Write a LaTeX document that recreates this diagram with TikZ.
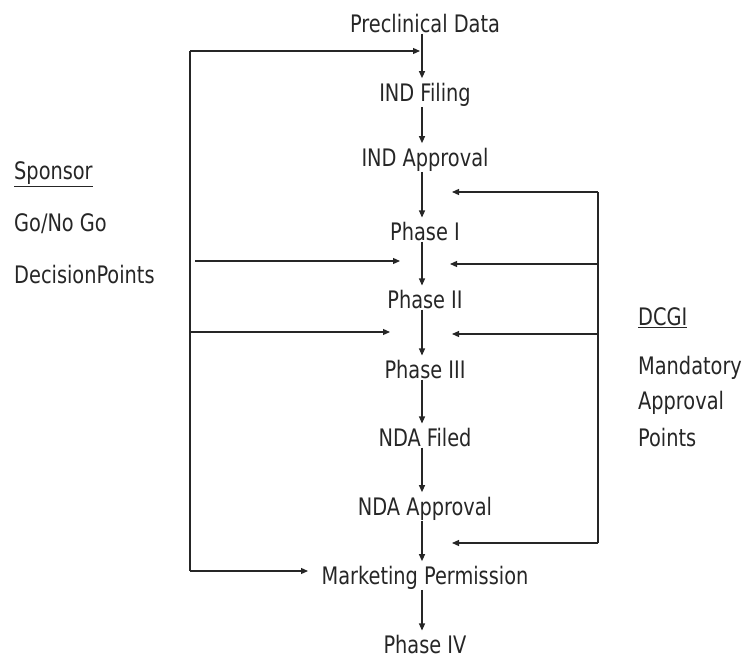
\documentclass[tikz,border=0pt]{standalone}
\usepackage{fontspec}
\usepackage{graphicx}
\setmainfont{DejaVu Sans Condensed}
\usetikzlibrary{arrows.meta}
\definecolor{ink}{HTML}{262626}
% slightly taller lettering
\newcommand\tallt[1]{\scalebox{1}[1.12]{#1}}
\begin{document}
\begin{tikzpicture}[x=1pt,y=-1pt,
  stage/.style={inner sep=0pt,font=\fontsize{21.5}{24}\selectfont,text=ink},
  side/.style={inner sep=0pt,anchor=west,font=\fontsize{21.5}{24}\selectfont,text=ink},
  flow/.style={draw=ink,line width=1.2pt,-{Triangle[length=7pt,width=6pt]}},
  link/.style={draw=ink,line width=1.2pt}]
\useasboundingbox (0,0) rectangle (746,661);

% main sequence of stages
\node[stage] (pre)  at (425,24)  {\tallt{Preclinical Data}};
\node[stage] (indf) at (425,95)  {\tallt{IND Filing}};
\node[stage] (inda) at (425,160) {\tallt{IND Approval}};
\node[stage] (p1)   at (425,232) {\tallt{Phase I}};
\node[stage] (p2)   at (425,300) {\tallt{Phase II}};
\node[stage] (p3)   at (425,370) {\tallt{Phase III}};
\node[stage] (ndaf) at (425,438) {\tallt{NDA Filed}};
\node[stage] (ndaa) at (425,509) {\tallt{NDA Approval}};
\node[stage] (mkt)  at (425,578) {\tallt{Marketing Permission}};
\node[stage] (p4)   at (425,645) {\tallt{Phase IV}};

% side captions
\node[side] (spon) at (14,174) {\tallt{\underline{Sponsor}}};
\node[side] (gono) at (14,224) {\tallt{Go/No Go}};
\node[side] (dec)  at (14,275) {\tallt{DecisionPoints}};
\node[side] (dcgi) at (638,318) {\tallt{\underline{DCGI}}};
\node[side] (mand) at (638,368) {\tallt{Mandatory}};
\node[side] (appr) at (638,403) {\tallt{Approval}};
\node[side] (pts)  at (638,438) {\tallt{Points}};

% vertical arrows between stages (start at the label's foot, stop just above the next label)
\foreach \a/\b in {pre/indf,indf/inda,inda/p1,p1/p2,p2/p3,p3/ndaf,ndaf/ndaa,ndaa/mkt,mkt/p4}
  \draw[flow] ([xshift=-3pt]\a.south) -- ([xshift=-3pt,yshift=5pt]\b.north);

% sponsor decision bracket
\coordinate (lt) at (190,51);
\coordinate (lb) at (190,571);
\coordinate (lm) at (190,332);
\coordinate (lf) at (195,261);
\coordinate (ta) at (420,51);
\coordinate (m1) at (400,261);
\coordinate (m2) at (390,332);
\coordinate (mk) at (308,571);
\draw[link] (lt) -- (lb);
\draw[flow] (lt) -- (ta);
\draw[flow] (lb) -- (mk);
\draw[flow] (lf) -- (m1);
\draw[flow] (lm) -- (m2);

% regulator approval bracket
\coordinate (rt) at (598,192);
\coordinate (r2) at (598,264);
\coordinate (r3) at (598,334);
\coordinate (rb) at (598,543);
\coordinate (q1) at (452,192);
\coordinate (q2) at (450,264);
\coordinate (q3) at (452,334);
\coordinate (q4) at (452,543);
\draw[link] (rt) -- (rb);
\draw[flow] (rt) -- (q1);
\draw[flow] (r2) -- (q2);
\draw[flow] (r3) -- (q3);
\draw[flow] (rb) -- (q4);
\end{tikzpicture}
\end{document}
